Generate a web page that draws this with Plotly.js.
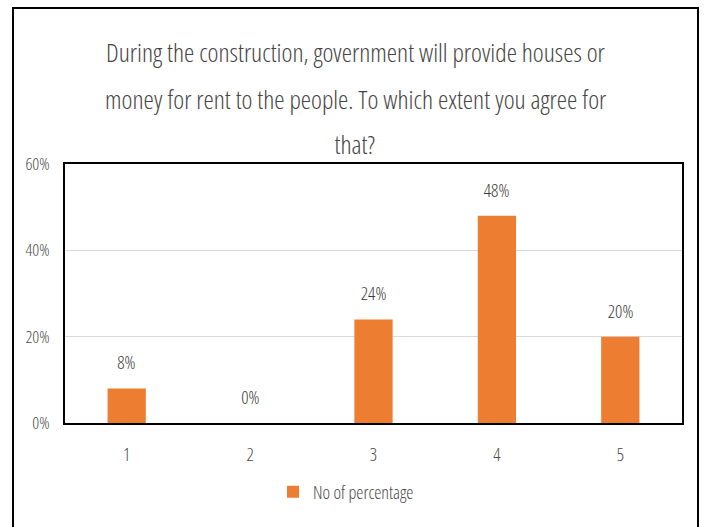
<!DOCTYPE html>
<html>
<head>
<meta charset="utf-8">
<script src="https://cdn.plot.ly/plotly-3.0.1.min.js"></script>
<style>html,body{margin:0;padding:0;background:#fff;}#chart{width:705px;height:527px;}
#chart text{font-stretch:condensed !important;}</style>
</head>
<body>
<div id="chart"></div>
<script>
var categories = ["1", "2", "3", "4", "5"];
var values = [0.08, 0.00, 0.24, 0.48, 0.20];
var labels = ["8%", "0%", "24%", "48%", "20%"];
var seriesName = "No of percentage";
var titleLines = [
  "During the construction, government will provide houses or",
  "money for rent to the people. To which extent you agree for",
  "that?"
];
var yTicks = [0, 0.2, 0.4, 0.6];
var yTickText = ["0%", "20%", "40%", "60%"];

var FONT = "'Open Sans', sans-serif";
var W = 705, H = 527, L = 65, R = 682, T = 164, B = 423;
function px(x){ return (x - L) / (R - L); }
function py(y){ return (B - y) / (B - T); }
function f(size, color){ return {family: FONT, size: size, color: color || "#4a4a4a", weight: 300}; }

var trace = {
  type: "bar",
  x: categories,
  y: values,
  name: seriesName,
  marker: {color: "#ED7D31"},
  width: 0.31,
  showlegend: true,
  hoverinfo: "skip"
};

var annotations = categories.map(function(c, i){
  return {x: i, y: values[i], xref: "x", yref: "y", text: labels[i], showarrow: false,
    yanchor: "middle", yshift: 26, font: f(18, "#3a3a3a")};
});
var titleY = [52, 99, 144];
titleLines.forEach(function(t, i){
  annotations.push({x: px(355), y: py(titleY[i]), xref: "paper", yref: "paper", text: t,
    showarrow: false, xanchor: "center", yanchor: "middle", font: f(26, "#454545")});
});

var layout = {
  width: W, height: H,
  margin: {l: L, r: W - R, t: T, b: H - B, pad: 0},
  paper_bgcolor: "#fff", plot_bgcolor: "#fff",
  font: f(17),
  bargap: 0.69,
  xaxis: {type: "category", range: [-0.5, 4.5], showline: true, linecolor: "#000", linewidth: 2, mirror: true,
    showgrid: false, ticks: "", ticklabelstandoff: 14, tickfont: f(18), fixedrange: true},
  yaxis: {range: [0, 0.6], tickvals: yTicks, ticktext: yTickText, showline: true, linecolor: "#000",
    linewidth: 2, mirror: true, gridcolor: "#d9d9d9", gridwidth: 1.5, zeroline: false, ticks: "",
    ticklabelstandoff: 10, tickfont: f(17), fixedrange: true},
  legend: {orientation: "h", x: px(366), xanchor: "center", y: py(492), yanchor: "middle",
    font: f(18), itemwidth: 30},
  annotations: annotations,
  shapes: [{type: "rect", xref: "paper", yref: "paper", x0: px(13), x1: px(698), y0: py(535), y1: py(8),
    line: {color: "#000", width: 2}, layer: "above"}]
};

Plotly.newPlot("chart", [trace], layout, {displayModeBar: false, staticPlot: true});
</script>
</body>
</html>
